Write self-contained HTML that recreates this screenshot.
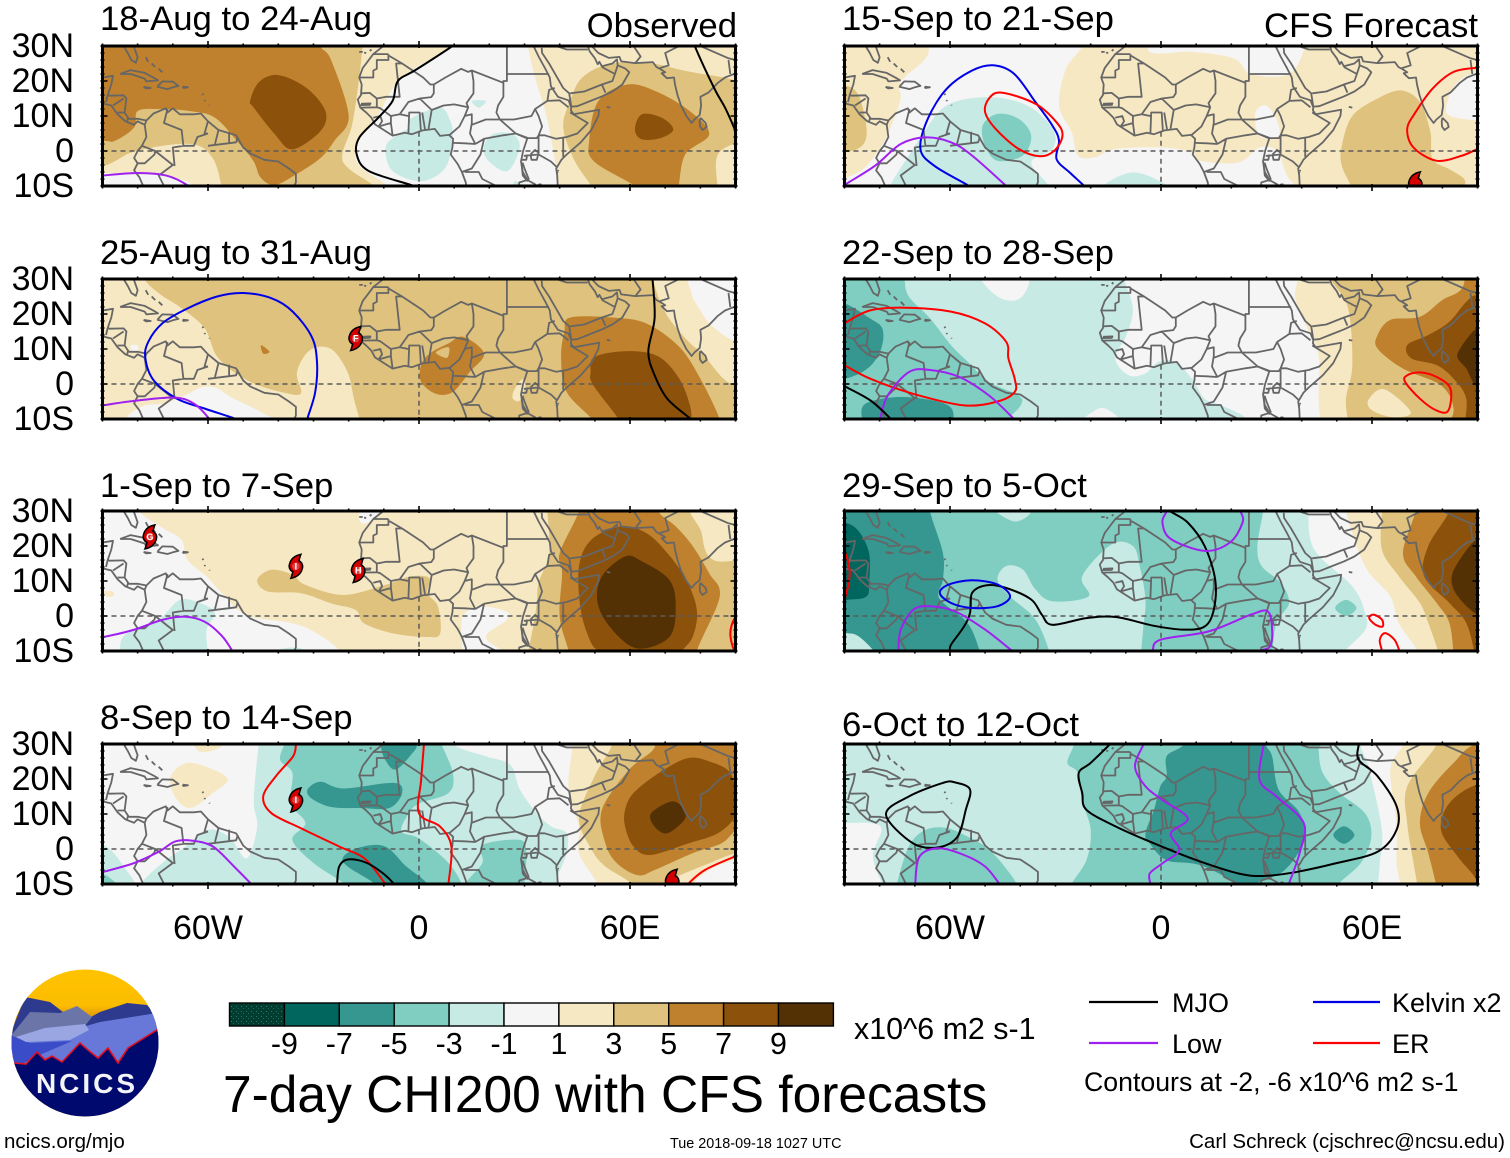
<!DOCTYPE html>
<html lang="en">
<head>
<meta charset="utf-8">
<title>7-day CHI200 with CFS forecasts</title>
<style>
html,body{margin:0;padding:0;background:#fff;}
svg{display:block;}
text{font-family:"Liberation Sans",Arial,sans-serif;fill:#000;}
</style>
</head>
<body>
<svg id="chart" xmlns="http://www.w3.org/2000/svg" width="1510" height="1158" viewBox="0 0 1510 1158">
  <defs>
    <pattern id="stipple" width="5" height="5" patternUnits="userSpaceOnUse">
      <rect width="5" height="5" fill="#003c30"/>
      <rect x="1" y="1" width="1" height="1" fill="#2e7a6c"/>
      <rect x="3" y="3" width="1" height="1" fill="#1f6a5c"/>
    </pattern>
    <clipPath id="logo-clip"><circle cx="85" cy="1043" r="73.5"/></clipPath>
    <linearGradient id="logo-sky" x1="0" y1="0" x2="0" y2="1">
      <stop offset="0" stop-color="#ffc400"/><stop offset="0.25" stop-color="#fcbc00"/><stop offset="0.32" stop-color="#e09a10"/><stop offset="1" stop-color="#dc960f"/>
    </linearGradient>
  </defs>
  <g id="panels"></g>

  <text x="737" y="37" font-size="34.7" text-anchor="end">Observed</text>
  <text x="1478" y="37" font-size="34.7" text-anchor="end">CFS Forecast</text>

  <g id="colorbar"></g>
  <text x="854" y="1039" font-size="30.4">x10^6 m2 s-1</text>
  <text x="223" y="1112" font-size="51.5">7-day CHI200 with CFS forecasts</text>

  <g>
    <line x1="1089" y1="1002" x2="1158" y2="1002" stroke="#000" stroke-width="2.2"/>
    <text x="1172" y="1012" font-size="27">MJO</text>
    <line x1="1313" y1="1002" x2="1380" y2="1002" stroke="#0000e6" stroke-width="2.2"/>
    <text x="1392" y="1012" font-size="27">Kelvin x2</text>
    <line x1="1089" y1="1043" x2="1158" y2="1043" stroke="#a020f0" stroke-width="2.2"/>
    <text x="1172" y="1053" font-size="27">Low</text>
    <line x1="1313" y1="1043" x2="1380" y2="1043" stroke="#ff0000" stroke-width="2.2"/>
    <text x="1392" y="1053" font-size="27">ER</text>
    <text x="1084" y="1091" font-size="26.7">Contours at -2, -6 x10^6 m2 s-1</text>
  </g>

  <text x="4" y="1148" font-size="20.5">ncics.org/mjo</text>
  <text x="670" y="1148" font-size="14.4">Tue 2018-09-18 1027 UTC</text>
  <text x="1505" y="1148" font-size="20.5" text-anchor="end">Carl Schreck (cjschrec@ncsu.edu)</text>

  <g clip-path="url(#logo-clip)">
    <rect x="10" y="968" width="150" height="150" fill="url(#logo-sky)"/>
    <polygon fill="#2d3a8e" points="10,1035 25,997 50,1002 63,1012 82,1022 100,1012 127,1003 147,1005 162,1022 162,1050 10,1050"/>
    <polygon fill="#6b75a8" points="10,1037 30,1012 60,1013 77,1006 92,1017 84,1027 40,1042 10,1042"/>
    <polygon fill="#6878d8" points="10,1042 40,1035 86,1026 100,1022 157,1013 162,1030 162,1068 10,1068"/>
    <polygon fill="#3a4cc8" points="10,1035 30,1043 72,1041 42,1054 22,1064 10,1064"/>
    <polygon fill="#9aa6e2" points="16,1037 45,1028 85,1024 89,1030 70,1040 26,1042"/>
    <polygon fill="#000a6e" points="10,1063 15,1063 26,1064 37,1052 45,1060 52,1056 62,1062 80,1043 88,1050 98,1058 108,1048 118,1063 128,1048 162,1027 162,1120 10,1120"/>
    <polyline fill="none" stroke="#e01020" stroke-width="1.6" points="14,1063 26,1064 37,1052 45,1060 52,1056 62,1062 80,1043 88,1050 98,1058 108,1048 118,1063 128,1048 160,1028"/>
    <text x="87" y="1093" font-size="28" font-weight="bold" text-anchor="middle" letter-spacing="3" style="fill:#f4f4f8">NCICS</text>
  </g>
</svg>

<script>
/* ---- Axis and scale data ---- */
const lonTickLabels = [[-60, '60W'], [0, '0'], [60, '60E']];
const latTickLabels = [[30, '30N'], [20, '20N'], [10, '10N'], [0, '0'], [-10, '10S']];
const cbLevels = [-9, -7, -5, -3, -1, 1, 3, 5, 7, 9];
const cbColors = ['url(#stipple)', '#01665e', '#35978f', '#80cdc1', '#c7eae5', '#f5f5f5', '#f6e8c3', '#dfc27d', '#bf812d', '#8c510a', '#543005'];

/* Shading bands in value space: -10 .. 10 */
const bandColors = {'-10':'#003c30','-8':'#01665e','-6':'#35978f','-4':'#80cdc1','-2':'#c7eae5','0':'#f5f5f5','2':'#f6e8c3','4':'#dfc27d','6':'#bf812d','8':'#8c510a','10':'#543005'};
const lineColors = {mjo:'#000000', low:'#a020f0', kelvin:'#0000e6', er:'#ff0000'};

/* ---- Geography (lon, lat pairs) ---- */
const coastlines = [
 [-9.6,30.4,-13,27.7,-16,23.7,-17,21,-16.3,19,-16.5,16,-17.4,14.7,-16.7,12.4,-15,11,-13.5,9.5,-12.5,7.6,-10,6,-7.5,4.4,-4,5.2,-2,4.8,1,5.9,4.5,6.3,6,4.3,8.5,4.6,9.7,3.5,9.5,1,9,-1,11,-3.7,12.2,-6,13.3,-9,13.5,-11],
 [39.5,-11,39.3,-7,39,-5,40.5,-2.5,42,-1,46,2.5,49,6,51,10,51.2,11.8,48,11.2,44,10.5,43.2,11.6,43.3,12.5,42.5,14.5,39.5,15.5,37.5,18.5,37.2,21,35.7,23.9,34,27,32.6,29.9,32.5,31],
 [34.9,29.5,35,28,37,25,39,21.5,41,18,42.7,16.5,43.3,12.7,45,12.8,48,14,52,15.6,55,17,57.8,19,59.8,22.5,58.6,23.6,56.5,24.5,56.3,26.2,55,25,52,24.2,51.3,25.5,50.8,24.8,50,26.5,48.5,28.5,48,30,48.8,30.3,51,28,54,26.6,57,26.9,57.5,25.6,61.5,25.1,66.5,25.4,67.5,24,68.5,23.5,70,22.5,69,22.2,70.5,20.8,72.5,21,72.8,19,73.5,16,74.5,13,76,10,77.5,8,78.3,9,79.8,10.3,80.2,13,80,15.5,82.3,16.7,85,19.5,87,21,88.5,21.6,91,22.5],
 [80,9.5,81.5,8,81.8,6.9,80.6,6,79.9,7,79.8,8.5,80,9.5],
 [31.7,-1,33,0.3,34,-0.5,33.5,-2.5,32,-2.5,31.7,-1],
 [29.2,-4,29.5,-7,30.8,-8.5,31.2,-8,30,-5,29.5,-3.5,29.2,-4],
 [34.5,-11,34.6,-9.5,34,-9.6,34.2,-11],
 [-91,21,-90,21,-87,21.5,-87.5,19,-88.5,16,-88,15.8,-84,15.9,-83.2,15,-83.7,11,-82.5,9.2,-80,9.2,-77.5,8.7,-75.5,10.7,-72,12.2,-71.5,11,-70,12.2,-68,10.5,-64,10.5,-62,10.7,-60,8.5,-57,6,-52,4.5,-50,1,-48,-0.7,-44,-2.5,-40,-3,-37,-5,-35,-6.5,-35,-9,-36,-11],
 [-91,13.9,-87.5,13,-85.7,10.5,-83.5,8.5,-81,7.5,-80,8.5,-78,7.5,-77.5,4,-78.8,1.5,-80,0,-81,-2,-80,-3.5,-81,-5.5,-79.5,-7.5,-78,-11],
 [-85,22,-82,23.1,-78,22.3,-75,20.7,-74.2,20.2,-77.5,19.9,-78,20.7,-82,22,-85,22],
 [-74.3,18.5,-73,19.9,-70,19.8,-68.4,18.6,-70,18.2,-71.5,17.7,-74.3,18.3,-74.3,18.5],
 [-78.3,18.3,-76.3,18,-77.5,17.9,-78.3,18.3],
 [-67.2,18.4,-65.7,18.2,-67,18,-67.2,18.4],
 [-81.5,31,-80,26.8,-80.5,25.2,-81.8,26,-82.8,28,-84,30,-91,30.3],
 [-77.7,26.8,-77,25.5],[-76,25,-75,24],[-74,23.5,-73,22.5],[-61.6,16.4,-61.3,16],[-60.9,14.6,-60.9,14.2],[-59.6,13.2,-59.5,13],
 [-17,28.3,-16,28.3],[-15.6,28.1,-15,28],[-14,28.6,-13.5,29],
 [53.4,12.6,54.4,12.4],
 [39.4,-5.5,39.7,-5.8],[39.3,-6.2,39.5,-6.4]
];
const borders = [
 [-13,27.7,-8.7,27.7],[-8.7,27.7,-8.7,26,-12,26,-12,23.5,-13,23,-13,21,-17,21],
 [-8.7,27.3,-4.8,25,-6.5,25,-5.5,15.5,-9.3,15.5,-12,15,-14,16.6,-16.3,16.5],
 [-4.8,25,1.2,21,3.2,19,4.2,19,4.2,16.5,3.5,15.4,0.2,15,-3,14,-5.5,10.5,-8,10,-11,12.2,-12,12.5,-16.7,12.4],
 [-12,15,-12,12.5],[-16.5,13.5,-13.8,13.6,-14,13.2,-16.7,13.1],
 [4.2,19,7.5,21,12,23.5,14,22.6,15,23,15.5,20,15.5,16.5,13.5,13.7,14,12.5,13,10,11.5,7,8.7,4.6],
 [0.2,15,3.6,11.7,7,13,10,13.3,14,12.5],[3.6,11.7,2.7,6.3],[1.7,6.2,0.9,11],[-3,5,-2.8,11,0.2,11,0.5,6],
 [-5.5,10.5,-3,10],[-7.5,4.4,-8,8,-8,10],[-13,9.5,-11,10,-10.5,8.5,-11.5,7],[-11.5,7,-8,8],
 [9.8,2.3,13,2.2,16,2],[13,10,15,10.5,15,8,14.5,5,16,2],[15,23,24,19.5],[25,31,25,20,24,20,24,15.5,22.5,13,22,11,23,9],
 [25,22,37,22],[15,10.5,15,7.5,19,9,23,9,27.5,5,24,4.5,18.5,3.5,16,2],
 [18.5,3.5,17.5,-1,15,-5,12.2,-6],[27.5,5,30.8,3.6,29.6,0,29,-3,29.5,-6,30.8,-8.3,28.5,-9,28.5,-11],[13,-6,17,-6,18,-8,22,-10,22,-11],
 [23,9,27,9,32,10,33,12,34,10,35,7,34,4.5,33.5,3.7,31,3.7,27.5,5],[33,12,36.5,14.3,37,17.5,38.6,18],[36.5,14.3,40,14.5,42.5,12.5],
 [43,11,48,8,45,5,42,4,39,3.5,35.7,4.5,34,4.5,34,-1,37.5,-3,39.3,-4.7],[41,4,41,-1.7],[29.8,-1.4,33.9,-1],
 [39.5,-10.5,34.5,-11.5],[30.8,-8.3,33,-9.5,34.5,-11],[29,-2.5,30.5,-2.5,30.8,-1],
 [43,16.5,47,17,52,19,55,20,55.7,22,52,24],[52,19,53,16.7],[36,31,39,30,42,29,48,29],[55.7,22,56.5,24.5],
 [61.5,25.1,63,27,61,30,61,32],[68.5,23.7,71,24.5,70,28,74,30,75,32],[80,30,88,26.5,90,26],[88,26,88.5,22],
 [-88.5,16,-89,14],[-87,13,-84,15],[-85.7,11,-83.7,11],[-83,8.5,-82.7,9.5],[-77.5,8.7,-78,7.5],
 [-71.5,12,-72.5,8,-67.5,6,-67,1.5,-70,1,-69.5,-4.3],[-78.8,1.5,-75,0,-75.2,-1,-78,-3.5,-80,-3.5],[-75,0,-70,-4,-74,-7,-72,-11],
 [-60,8.5,-61,5,-60,5],[-67,1.5,-64,1.5,-63,4,-60,5],[-57,6,-58,2],[-54,5.5,-54,2.2],[-60,1.5,-52,2.5,-51.5,4]
];

/* ---- Shaded field per panel: [band value, closed contour lon/lat] ---- */
const field18Aug = [
 [0,[-100,35,100,35,100,-15,-100,-15]],
 [2,[9.5,36,9.5,30,0.7,24.8,-6,20,-11.6,10.5,-17,3,-17.3,-3.8,-7.5,-11,-7,-16,-105,-16,-105,36]],
 [0,[-95,-7,-80,-6.7,-71.6,-7,-65,-11,-95,-15]],
 [4,[-105,36,-15,36,-16,30,-17,21,-19,7.6,-21.8,-1,-20,-5,-11.6,-11,-11.6,-16,-56,-16,-56,-11,-58.7,-2,-65,2,-80.5,0,-90,-4.3,-105,-5]],
 [6,[-105,36,-28,36,-28,30,-25,26,-20,10,-24,3,-28,-2,-35,-6.7,-41,-9.7,-45,-7.6,-47,-3,-51,2,-58,9.5,-65,11.4,-74,12,-80,11.4,-81,6.7,-86.5,2.9,-90,2.9,-105,3]],
 [8,[-40,21.7,-32,18,-26.6,11.4,-28,5.7,-36,0.5,-41,4.8,-47,12.4,-48,14.3,-45.5,19.7]],
 [2,[31,36,31,30,33,21,36,11,38,1,40,-11,40,-16,105,-16,105,36]],
 [4,[43,14.3,46.4,21,54,24.8,64.8,25.2,75.7,22.9,93,19,100,10,93,3.8,85,-1,85,-11.4,85,-16,49.8,-16,49.8,-11.4,44.3,-2.9,41,6.7]],
 [6,[51,14.3,59.3,19,67.5,17,77,11.4,82.5,4.8,75.7,-1,73.7,-10.5,72,-15,63,-15,62,-10.5,49.8,-3,48.4,3]],
 [8,[63.4,10.5,69,9.5,72.3,6.2,69,3.8,63.4,3.3,61.4,6.2]],
 [-2,[-2,9.5,6,12.4,8.9,8.6,9.5,3.8,7.5,-4.8,0.7,-8.6,-7.5,-5.7,-9.5,1,-6,4.8,-2.7,6.7]],
 [-2,[21,4.8,26.6,4.8,28.6,1,25.2,-5.7,19.8,-2.9,18.4,1]],
 [-2,[15,14.3,19,14.3,17,12.4]],
 [-2,[27.3,-8.6,30,-10.5,27,-11]]
];
const field25Aug = [
 [4,[-100,35,100,35,100,-15,-100,-15]],
 [2,[-105,36,-78,36,-78,30,-73.4,25.5,-68,22,-61,16,-57,7.3,-48,0.6,-37,-2.8,-33.5,-2.4,-34.7,3.4,-31,9.7,-25,10,-20.3,3.4,-18.5,-4.2,-16.7,-11,-16,-16,-105,-16]],
 [0,[-82,-11,-79,-6.5,-72,-5.5,-66,-3,-62,-1,-58,-1,-53,-4,-45,-8,-42,-11,-60,-14]],
 [0,[-82,11,-80,11,-80,9.5,-81.5,9.5]],
 [2,[66,36,66.5,30,69.4,21.6,74,15,80,9.2,92,1,105,36]],
 [0,[78,31,77.5,26,79,22.6,84,16,92,13.5,95,35]],
 [2,[29.3,1.3,30.3,-0.4,28.7,-4.7,26.7,-4.2,27,-1.8]],
 [6,[3,8.7,8.4,11.6,12.6,13.5,18.5,8.7,14.4,3.4,9.6,-2.3,4.8,-2.8,0.6,0.6,0.6,5.4]],
 [4,[4.8,9,8.4,10.5,8,7.5]],
 [6,[-44.9,11.1,-42.5,9.2,-44.3,8.7]],
 [6,[43,19,55,19,64.6,17.3,74,10.6,80,1.5,85.5,-10,86,-15,50,-15,50,-11,42,-2.3,40.4,7.3,41.3,15]],
 [8,[50,7.8,59.8,9.4,68.2,7.8,74,1.5,77,-6,77.5,-11,77,-15,58,-15,57.4,-11,49.6,-0.4,48.8,3.4]]
];
const field1Sep = [
 [2,[-100,35,100,35,100,-15,-100,-15]],
 [0,[-105,36,-79.5,36,-79.5,30,-73.6,25.6,-67.6,21.8,-65.8,16,-60.4,11.3,-56,6.5,-49,0.3,-36,-2.1,-29,-5,-22.7,-10,-22,-16,-105,-16]],
 [2,[-89.7,7,-87.3,7,-86.7,6,-88.5,5.4]],
 [-2,[-85,-11,-83.7,-5.5,-74,-1,-68,4.6,-62,3.6,-58,0.8,-60.4,-4,-60,-11,-60,-15,-85,-15]],
 [-2,[-42,-10.5,-36,-9,-31,-10.5,-36,-13]],
 [0,[-16.5,30.5,-17,27.5,-15,26.5,-10,30.5,-13,34]],
 [0,[12,-4,13,0.8,18,2.7,25,1.2,25,-1.1,19,-6,25,-11,25,-15,12.5,-15,12.5,-11]],
 [4,[-46,10.3,-42,13.2,-36,11.8,-32.3,8.9,-21.5,6,-9.6,8.9,-2.4,11.3,3,10.8,2.4,6.5,5.4,2.7,6,-5,2.4,-6,-7.2,-5,-15.6,-2.1,-18,1.7,-25,3.6,-33.5,6.5,-43,7]],
 [4,[36.5,36,36.5,30,37,18,34,9.4,33.5,3.6,32.3,-4,31,-11,31,-16,100,-16,100,13.5,83.7,16,80,24.7,77,30,77,36]],
 [6,[45.5,36,45.5,30,40,18,40.7,12.3,40,-0.2,42.5,-10,43,-16,79,-16,79,-10,85.5,5.5,82.5,12.2,77.8,20,73,25.6,68,30,68,36]],
 [8,[57.4,25.6,49,21.8,45.5,14.2,46,1.7,49,-7.8,52,-11,53,-16,73,-16,74,-11,77.8,-6,79,1.7,76,10.3,70.6,18,64.6,23.7]],
 [10,[58.6,17,63.4,15.6,71.2,10.3,73,2.7,71.2,-6,62.2,-9.3,55,-4,50.8,3.6,52,11.3]]
];
const field8Sep = [
 [0,[-100,35,100,35,100,-15,-100,-15]],
 [-2,[-80,-11,-73,-4,-66,1,-60,5.5,-54,3.5,-49,-2.7,-46,6.4,-47,14,-45.5,31,-45,36,9.6,36,9.6,30,19,26.5,26,24,28.7,17,33.5,10.2,37.7,6.4,42,4.5,42,-1.2,39.5,-8,40.7,-11,40.7,-16,-80,-16]],
 [-2,[-92,1,-88,0,-84,-5,-81,-11,-92,-11]],
 [-4,[-92,-7,-89,-7.5,-85.5,-11,-92,-11]],
 [-4,[-38,31,-39.5,25.5,-36,21.7,-36.5,13,-32.3,7.4,-36,2.6,-30,-4,-20,-11,-20,-15,12.6,-15,12.6,-11,8.4,-4,0,3,-5,5,-3,10,0,13,8.4,16,9.6,21.7,6,31,5,36,-38,36]],
 [-4,[18,1.1,28.7,2.6,30.5,-1.2,30,-10,30,-15,13.2,-15,13.2,-10,18,-4]],
 [-6,[-10.8,29.4,-9.6,25.5,-6.6,22.7,-1.8,27.5,-0.6,30,-2,34,-10,34]],
 [-6,[-31.7,17,-28,19.2,-21.5,17.3,-7.2,18.9,-4.8,16,-8.4,11.7,-16.7,11.7,-25,12,-30.5,14.4]],
 [-6,[-21.5,-2.2,-16.7,0.5,-9.6,0.7,-3.6,-5,2.4,-10,3,-15,-12,-15,-12,-10.5,-20.3,-5]],
 [2,[-64.6,31,-62,27.7,-56,29.4,-56,33,-64,33]],
 [2,[-70.6,20.8,-65.8,24.6,-58.6,22.7,-54.4,19.8,-58.6,16,-65,11.7,-69.4,15]],
 [2,[43.7,36,43.7,30,42.5,17,45.5,6.4,45.5,-1.2,51.4,-11,52,-16,105,-16,105,36]],
 [0,[78,-10,82.5,-6,90,-3,96,-3,96,-15,78,-15]],
 [4,[55,36,55,30,50,21,45.5,9,49,0,53,-5,60.4,-10,61,-15,69,-15,69.4,-10,83.7,-3.6,90.3,-1.2,96,-1,96,36]],
 [6,[67,36,67,29,59.8,22.7,52,11.2,53,1.6,56.2,-4,62.2,-7.5,67,-6,77.8,-1.2,86,1.6,90.3,5.5,96,8,96,36]],
 [8,[58.6,11.2,61,16,68.2,21.7,76.6,26,83.7,24.6,88.5,21.7,90.3,15,90.3,9.8,85,4.5,76.6,1.6,65.8,-1.7,61,0.7,58.6,6.4]],
 [10,[66,10.2,72,13.6,75.4,11.2,75.4,8.3,70.6,4.5,67,6.4]]
];
const field15Sep = [
 [0,[-100,35,100,35,100,-15,-100,-15]],
 [2,[-105,36,-65.7,36,-66,30,-67,26.4,-74,19.7,-74,15,-76,9,-80,0.6,-88,-7,-105,-8]],
 [4,[-96,19,-90,18.8,-86,16,-83.7,6.3,-85,1.5,-90,-0.4,-96,0]],
 [2,[-22.4,36,-22.4,30,-27,23.5,-29,13,-25.4,5.4,-23.6,-1.3,-18.8,-1.8,-12.8,0.6,0.4,1,8.8,-0.4,11,-2.8,22,-3.3,28,1,33,0,35.8,-7,38.8,-11,39,-16,105,-16,105,36,41,36,41,30,36.4,22,25.6,22,20.8,26.4,8.8,28.3,-3.2,28.3,-3.5,36]],
 [0,[29.8,13,32.8,9.2,33.4,4.4,28,4.4,26.8,11]],
 [0,[84.4,19.7,81.4,14,82,10.1,89.8,8.7,97,8,97,22,90,22.5]],
 [4,[51.4,1.5,54.4,10,61.6,15,68.2,17.3,73.6,14,76.6,5.4,77.2,-2.3,82,-5.2,86.2,-8,86.2,-11,86,-15,54,-15,54.4,-11,51.4,-4.2]],
 [-2,[-77,-10,-71.7,-1.3,-68,4.4,-61,13,-49,15.4,-38,13,-30.8,6.3,-30.8,0.6,-36.9,-3.3,-32,-10,-32,-15,-77,-15]],
 [-2,[-16.4,-10,-8,-6.1,0.4,-9,1.6,-11,1,-15,-17,-15]],
 [-4,[-50.7,7.3,-46.5,10.6,-40.5,9.2,-36.9,4.4,-39.3,-1.3,-46.5,-2.8,-50,1.5]]
];
const field22Sep = [
 [0,[-100,35,100,35,100,-15,-100,-15]],
 [-2,[-105,36,-10.4,36,-10.4,30,-8,21.6,-9.8,14,-13,7.3,-9.2,2.5,-4.4,3,-0.8,6.3,4,6.3,8.8,1.5,12.4,-4.2,17.2,-6.1,24.4,-10,26,-16,-105,-16]],
 [0,[-51.3,31,-46.5,25,-41,24,-38,27.4,-38,31,-44,34]],
 [0,[-22.4,-11,-17.6,-7,-14,-8,-11.6,-11,-16,-14]],
 [-4,[-105,36,-72.9,36,-72.9,30,-71.7,25,-65.7,18.8,-59.7,11.1,-54.9,6.3,-48.9,0.6,-40.5,-3.3,-39.9,-6.1,-44,-11,-44,-16,-105,-16]],
 [-6,[-96,23,-90,23,-82.8,18.8,-79.3,16,-79.3,11,-81.6,6.3,-85,3.4,-90,1.5,-96,1]],
 [-6,[-85,-11,-84,-5.6,-73,-3.7,-60.7,-6,-59,-11,-60,-15,-85,-15]],
 [2,[38.8,36,38.8,30,38.2,24.5,41.2,16.8,44.8,8.2,44.8,-4.2,45.4,-11,46,-16,105,-16,105,36]],
 [4,[48.4,36,48.4,30,53.2,21.6,54.4,5.4,52.6,-4.2,53.2,-11,53.5,-16,105,-16,105,36]],
 [2,[59,-4.5,63.5,-1.5,71,-8,66,-9.5,60,-7.5]],
 [6,[61.6,14,65.2,18.3,73.6,19.2,80,24,85.6,27.4,88,36,96,36,96,-15,82,-15,83.2,-7,79.6,-0.4,68.8,4.4,61.6,10.1]],
 [8,[70,11.1,76,14,82,17.8,86.8,23.5,90,25.5,96,25,96,-15,87,-15,86.8,-4.2,83.2,1.5,78.4,5.4,71.2,7.3]],
 [10,[85,10,90,16,96,16,96,-2,90,-1,86.8,4.4,84.4,7.3]]
];
const field29Sep = [
 [0,[-100,35,100,35,100,-15,-100,-15]],
 [-2,[-105,36,41.8,36,41.8,30,43.6,19,54.4,8.5,58,1,58,-4,51.4,-11,50,-16,-105,-16]],
 [-4,[-105,36,29,36,29,30,27.4,20,28.6,14.3,34,9.5,36.4,3.7,32.8,-2,31.6,-11,31,-16,-5.6,-16,-5.6,-10,-5,-3,-4.4,4.7,-6,14,-8,20,-14,20.5,-22.4,11.4,-20.6,5.6,-30.9,4.2,-35.7,7.6,-39.3,13.3,-44,14.3,-46.5,10.4,-43,5.6,-35.7,-1,-31.5,-11,-31,-16,-105,-16]],
 [-2,[-47.7,31,-41.6,27,-37,30,-42,34]],
 [-4,[49.5,2.3,52.6,4.6,55.6,2.3,52.6,0]],
 [-6,[-105,36,-65.7,36,-65.7,30,-62,18,-62,10.4,-63,5,-55,-2,-51.3,-11,-51,-16,-105,-16]],
 [-2,[-95,-4.9,-89.7,-4.9,-86,-5.8,-81,-11,-81,-15,-95,-15]],
 [-8,[-96,27,-90,26.7,-86,24.3,-83,18,-83,9.5,-83.7,5.6,-88.5,4.7,-96,5]],
 [2,[52.6,36,52.6,30,58,14.3,65.2,5.6,67.6,-2,73.6,-11,74,-16,105,-16,105,36]],
 [4,[62.8,36,62.8,30,62.8,19,67.6,11.4,73.6,3.7,76,-2,79,-11,79.5,-16,105,-16,105,36]],
 [6,[72.4,36,72.4,30,68.8,18,72.4,11.4,78.4,3.7,82,-2,83.2,-11,83.5,-16,105,-16,105,36]],
 [8,[82,36,82,30,76,20,74.8,11.4,82,3.7,86.8,-2,89.2,-11,89.5,-16,105,-16,105,36]],
 [10,[90,22,84.4,15.2,82.6,10.4,84.4,5.6,90,0.4,97,-1,97,23]]
];
const field6Oct = [
 [-2,[-100,35,100,35,100,-15,-100,-15]],
 [0,[-96,7.4,-90,7.4,-82.5,7.4,-79.5,5.5,-81.9,-2.2,-78.9,-11,-78.5,-16,-96,-16]],
 [0,[56.8,36,56.8,29.4,59.2,22.7,62.8,5.5,62.2,-4,61.6,-11,61,-16,105,-16,105,36]],
 [2,[68.8,36,68.8,29.9,65.2,22.7,67,7.4,67,-4,68.2,-11,68.5,-16,105,-16,105,36]],
 [4,[78.4,36,78.4,29.9,70,17.9,70,7.4,71.8,-4,73,-11,73.5,-16,105,-16,105,36]],
 [6,[90,30,83.2,24.6,76,16,73.6,7.4,76,-1.2,78.4,-11,79,-16,105,-16,105,30]],
 [8,[90,18.4,82,13.1,79.6,5.5,84.4,-2.2,89.2,-8,92,-14,100,-14,100,18]],
 [-4,[-24.8,36,-24.8,29.9,-26.6,24.6,-23.6,21.7,-22.5,14,-20,5.5,-21.2,-3.2,-26,-11,-26,-16,49.6,-16,49.6,-11,56.8,-4,59.8,3.5,58,10.2,50.8,16,46,21.7,44.8,28.4,44.8,36]],
 [-4,[-75.3,-11,-71.7,0.7,-66.9,5.5,-60.9,6,-54.9,3.5,-50,0.7,-45.3,-4,-40.5,-11,-40.5,-16,-75.3,-16]],
 [-6,[1.6,20.8,1.6,26.5,6.4,29.9,6,36,29.8,36,29.8,29.9,31.6,26.5,33.4,17,38.8,11.2,40.6,6.4,40,0.7,35.2,-6,29.2,-8.9,23.2,-10,11.2,-4.6,1.6,-3.2,-3.2,1.6,-4.4,4.5,-2,11.2,-0.2,17.9]],
 [-6,[49,4,52,6.5,55,4,52,1.5]]
];

/* ---- Contours per panel: [wave type, lon/lat points, closed?] ---- */
const lines18Aug = [
 ['mjo',[10,31,9.5,30,-0.7,23.3,-6,20,-7.5,14.3,-11.6,9.5,-17,3.8,-17.7,-1,-14.3,-5.7,-2,-9.8,1,-11]],
 ['mjo',[78,32,78.4,30,83.9,18,87,12.4,90,5.7,91,3]],
 ['low',[-92,-7.2,-90,-7,-79.8,-6.3,-71.6,-7.1,-65.5,-10,-64,-12]]
];
const lines25Aug = [
 ['kelvin',[-50,-11,-52.6,-9.8,-61,-7,-68.8,-4.2,-75.4,1,-77.8,7.3,-77,12,-73,17.3,-65.8,21.6,-57.4,25,-50,26,-41.9,24.5,-35.9,20.7,-30.5,13.5,-29,6.3,-29.5,-2.3,-31.7,-9.8,-32,-12]],
 ['mjo',[66,32,66.4,30,67,18.8,65.2,9.2,67,2.5,70.6,-4.2,77,-9.8,78,-11]],
 ['low',[-92,-6.3,-90,-6.1,-80,-4.7,-69.4,-3.9,-64,-5.6,-59.8,-9.8,-59,-12]]
];
const lines1Sep = [
 ['low',[-92,-6.3,-89.7,-6,-81.3,-4,-73,-1.1,-66.4,-0.2,-61,-1.6,-56.2,-5.5,-53.2,-9.8,-52.5,-12]],
 ['er',[92,1,89.7,-0.7,88.5,-5,89.7,-10,92,-12]]
];
const lines8Sep = [
 ['low',[-92,-7,-89.7,-6.5,-81.3,-4.1,-74,-0.8,-69.4,2.1,-64.6,2.4,-58.6,0.7,-52.6,-5,-47.8,-9.9,-46,-12]],
 ['er',[-35,32,-35,30,-35.8,26.5,-40.7,20.8,-44.3,15,-41.9,10.2,-33.5,5.9,-22.7,0.7,-15.5,-2.7,-9.6,-9.9,-8,-12]],
 ['er',[1.4,32,1.4,30,0.6,19.7,0,10.2,6,6.4,9.2,0.7,8.4,-9.9,8.2,-12]],
 ['er',[75,-12,76.6,-9.9,81.3,-6,89.7,-2.2,92,-1.5]],
 ['mjo',[-23.4,-12,-23.3,-9.9,-22.7,-5,-20.3,-3,-15.5,-3.7,-10.8,-6.5,-7.2,-9.9,-6,-12]]
];
const lines15Sep = [
 ['kelvin',[-52,-12,-54.9,-9.8,-64.5,-4.2,-68.4,0.6,-66.3,9.2,-60.9,17.8,-53.7,23,-47.7,24.5,-41.7,22,-35.7,14,-30.9,7.3,-29,3,-29.7,-2.3,-26,-6.1,-21.8,-10,-20,-12]],
 ['er',[-45.3,16.7,-35.7,13.5,-29.7,8.2,-28,4.4,-30.3,0.1,-34.5,-1.5,-40.5,0.6,-47,6.3,-50,11.1,-48.9,15],true],
 ['er',[92,24,90,23.8,83.2,22.6,77.2,17.8,72.4,11.1,70,6.3,71.8,1,78.4,-2.8,85.6,-1.3,90,0.6,92,1.5]],
 ['low',[-92,-11,-89.7,-9.5,-81.3,-4.2,-74,2,-66.9,3.9,-59.7,2.5,-53.7,-1.3,-44,-10,-42,-12]]
];
const lines22Sep = [
 ['er',[-92,15.5,-90,17.3,-82.8,21,-73,21.8,-59.7,20.7,-50,17.3,-44,12,-43.4,7.3,-41.6,1.5,-41.6,-2.3,-46.5,-5,-56,-6.1,-70.5,-2.8,-82.6,1.5,-90,5.4,-92,7]],
 ['er',[73.6,3.3,78.4,2,82.3,-1.3,81.7,-7.6,78.4,-7.6,73.6,-4.2,69.4,0.6,70,2.5],true],
 ['low',[-80,-12,-79.8,-9.8,-77.7,-3.3,-71.7,3.4,-65.7,4,-57.3,2,-48.9,-3.3,-42,-9.8,-40,-12]],
 ['mjo',[-92,0.8,-90,-0.6,-82.6,-4.7,-77,-9.8,-75,-12]]
];
const lines29Sep = [
 ['mjo',[1,32,2.5,30,7.6,26.7,12.4,20,15.4,10.4,15,1.8,12.4,-3,6.4,-3.9,-2,-2.8,-12.8,-0.3,-21.2,-0.6,-30.9,-2.5,-33.9,0.4,-36.9,4.7,-44,8,-49.5,8.8,-53.7,6.6,-54.3,0.9,-56,-3,-59.7,-8.2,-60,-10,-60.2,-12]],
 ['kelvin',[-53.7,10.2,-46.5,9,-42.9,5.6,-46.5,2.8,-53.7,2.3,-59.7,3.7,-62.9,6.6,-60.3,9],true],
 ['low',[1.6,32,1.6,30,0.4,26.7,2.8,22,12.4,18.6,19.6,21,23.2,26.7,22.6,30,22,32]],
 ['low',[-75,-12,-74.7,-10,-74,-3.9,-70.4,1.8,-65.7,2.8,-58.5,1.3,-50,-3.9,-42.3,-10,-40,-12]],
 ['low',[-3,-12,-2.4,-10,-0.2,-6.8,13.6,-4.4,25.6,0.4,30.4,1.3,31.6,-3.9,31,-8.7,28,-10,26,-12]],
 ['er',[-92,20,-90,18.6,-88.5,12.3,-90,4.7,-92,3]],
 ['er',[60.4,0.4,62.8,-1,63,-3,61,-2.5,59.2,-0.6],true],
 ['er',[62.6,-12,62.8,-10,62.2,-6.8,63.7,-4.9,66.4,-6.8,67.8,-10,68.3,-12]]
];
const lines6Oct = [
 ['mjo',[-13,32,-14.6,29.9,-20,24.6,-23.4,21.7,-22.4,16,-21.2,11.2,-12.8,6.4,-0.8,1.1,11.2,-3.6,22,-7,29.2,-7.7,38.8,-6.5,49.6,-4.1,61.6,-0.8,67,5.5,67,12.2,61.6,20.8,56.2,25.5,56.2,29.9,56.2,32]],
 ['mjo',[-58.5,19,-54.3,17,-55.5,11.2,-57.9,3.5,-63.3,0.5,-70.5,1.6,-78.2,9.8,-71.7,15,-62,18.9],true],
 ['low',[-4.5,32,-5,29.9,-7.4,23.6,-4.4,17.9,0.4,14,7.6,8.8,2.8,4.5,5.2,-0.3,0.4,-4.1,-3.2,-7,-3,-10,-2.8,-12]],
 ['low',[29.5,32,29.2,29.9,28,19.8,32.8,15,40.6,7.4,39.4,-1.2,36.4,-9.9,36,-12]],
 ['low',[-70,-12,-69.9,-10,-68.7,-2.2,-63.3,0.2,-56,-1.7,-50,-5,-45.9,-10,-44,-12]]
];

/* ---- Tropical cyclone positions ---- */
const storms25Aug = [['F',-18,13]];
const storms1Sep = [['G',-76.5,22.6],['I',-35,14.2],['H',-17.3,13]];
const storms8Sep = [['I',-35,14],['',72,-9.2]];
const storms15Sep = [['',72.3,-9.4]];

/* ---- Panel layout ---- */
const panelTitles = ['18-Aug to 24-Aug','25-Aug to 31-Aug','1-Sep to 7-Sep','8-Sep to 14-Sep','15-Sep to 21-Sep','22-Sep to 28-Sep','29-Sep to 5-Oct','6-Oct to 12-Oct'];
const panelFields = [field18Aug,field25Aug,field1Sep,field8Sep,field15Sep,field22Sep,field29Sep,field6Oct];
const panelLines = [lines18Aug,lines25Aug,lines1Sep,lines8Sep,lines15Sep,lines22Sep,lines29Sep,lines6Oct];
const panelStorms = [[],storms25Aug,storms1Sep,storms8Sep,storms15Sep,[],[],[]];

/* ---- Axis functions ---- */
const colZeroX = [419, 1161];
const rowTopY = [46, 279, 511, 744];
const pxPerLon = 3.517, pxPerLat = 3.5;
const titleBaselines = [30, 264, 497, 729];
function lonToX(lon, col){ return colZeroX[col] + lon * pxPerLon; }
function latToY(lat, row){ return rowTopY[row] + (30 - lat) * pxPerLat; }

const NS = 'http://www.w3.org/2000/svg';
function make(tag, attrs, parent){
  const n = document.createElementNS(NS, tag);
  for (const k in attrs) n.setAttribute(k, attrs[k]);
  if (parent) parent.appendChild(n);
  return n;
}
function project(flat, col, row){
  const out = [];
  for (let i = 0; i < flat.length; i += 2) out.push([lonToX(flat[i], col), latToY(flat[i+1], row)]);
  return out;
}
function straightPath(pts){
  return 'M' + pts.map(p => p[0].toFixed(1) + ',' + p[1].toFixed(1)).join('L');
}
function smoothPath(pts, closed){
  const n = pts.length;
  const at = i => closed ? pts[(i + n) % n] : pts[Math.max(0, Math.min(n - 1, i))];
  let d = 'M' + pts[0][0].toFixed(1) + ',' + pts[0][1].toFixed(1);
  const segs = closed ? n : n - 1;
  for (let i = 0; i < segs; i++){
    const p0 = at(i-1), p1 = at(i), p2 = at(i+1), p3 = at(i+2);
    const c1x = p1[0] + (p2[0]-p0[0])/6, c1y = p1[1] + (p2[1]-p0[1])/6;
    const c2x = p2[0] - (p3[0]-p1[0])/6, c2y = p2[1] - (p3[1]-p1[1])/6;
    d += 'C' + c1x.toFixed(1) + ',' + c1y.toFixed(1) + ' ' + c2x.toFixed(1) + ',' + c2y.toFixed(1) + ' ' + p2[0].toFixed(1) + ',' + p2[1].toFixed(1);
  }
  return d + (closed ? 'Z' : '');
}

const root = document.getElementById('panels');
const defs = document.querySelector('#chart defs');

panelTitles.forEach((title, idx) => {
  const col = idx < 4 ? 0 : 1;
  const row = idx % 4;
  const left = lonToX(-90, col), right = lonToX(90, col);
  const top = latToY(30, row), bottom = latToY(-10, row);

  const g = make('g', {}, root);
  
  

  const cp = make('clipPath', {id: 'clip' + idx}, defs);
  make('rect', {x: left, y: top, width: right - left, height: bottom - top}, cp);
  const clipped = make('g', {'clip-path': 'url(#clip' + idx + ')'}, g);

  panelFields[idx].forEach(layer => {
    const poly = make('path', {d: smoothPath(project(layer[1], col, row), true), fill: bandColors[layer[0]]}, clipped);
    
    
  });

  let coastD = '';
  coastlines.forEach(c => { coastD += straightPath(project(c, col, row)); });
  const coast = make('path', {d: coastD, fill: 'none', stroke: '#666', 'stroke-width': 1.8, 'stroke-linejoin': 'round'}, clipped);
  
  

  let borderD = '';
  borders.forEach(c => { borderD += straightPath(project(c, col, row)); });
  const bord = make('path', {d: borderD, fill: 'none', stroke: '#666', 'stroke-width': 1.8, 'stroke-linejoin': 'round'}, clipped);
  
  

  const eq = make('line', {x1: left, x2: right, y1: latToY(0,row), y2: latToY(0,row), stroke: '#5a5a5a', 'stroke-width': 1.5, 'stroke-dasharray': '5 4'}, clipped);
  
  
  const pm = make('line', {x1: lonToX(0,col), x2: lonToX(0,col), y1: latToY(5.5,row), y2: bottom, stroke: '#5a5a5a', 'stroke-width': 1.5, 'stroke-dasharray': '5 4'}, clipped);
  
  

  panelLines[idx].forEach(item => {
    const pts = project(item[1], col, row);
    const path = make('path', {d: smoothPath(pts, !!item[2]), fill: 'none', stroke: lineColors[item[0]], 'stroke-width': 2}, clipped);
    
    
  });

  panelStorms[idx].forEach(s => {
    const sg = make('g', {transform: 'translate(' + lonToX(s[1],col).toFixed(1) + ',' + latToY(s[2],row).toFixed(1) + ')'}, clipped);
    
    
    make('path', {d: 'M5,-12 C0,-11 -5,-8 -6.5,-2 A6.5,6.5 0 0 0 -3,5.6 C-4,8 -4,10 -5,12 C0,11 5,8 6.5,2 A6.5,6.5 0 0 0 3,-5.6 C4,-8 4,-10 5,-12Z', fill: '#d40000', stroke: '#000', 'stroke-width': 1.5}, sg);
    if (s[0]){
      make('circle', {cx: 0, cy: 0, r: 3.8, fill: '#ffffff', opacity: 0.25}, sg);
      const t = make('text', {x: 0, y: 3.2, 'font-size': 9, 'font-weight': 'bold', 'text-anchor': 'middle', style: 'fill:#fff'}, sg);
      t.textContent = s[0];
      
      
    }
  });

  const frame = make('rect', {x: left, y: top, width: right - left, height: bottom - top, fill: 'none', stroke: '#000', 'stroke-width': 3}, g);
  
  

  let tickD = '';
  for (let lon = -90; lon <= 90; lon += 10){
    const major = lon % 60 === 0;
    const len = major ? 5 : 2.5;
    tickD += 'M' + lonToX(lon,col).toFixed(1) + ',' + (top - len) + 'V' + (top + (major ? 2 : 0));
    tickD += 'M' + lonToX(lon,col).toFixed(1) + ',' + (bottom + len) + 'V' + (bottom - (major ? 2 : 0));
  }
  for (let lat = -10; lat <= 30; lat += 2){
    const major = lat % 10 === 0;
    const len = major ? 5 : 2;
    tickD += 'M' + (left - 2) + ',' + latToY(lat,row).toFixed(1) + 'H' + (left + len);
    tickD += 'M' + (right + 2) + ',' + latToY(lat,row).toFixed(1) + 'H' + (right - len);
  }
  const ticks = make('path', {d: tickD, fill: 'none', stroke: '#000', 'stroke-width': 1.6}, g);
  
  

  const baseline = idx === 7 ? 736 : titleBaselines[row];
  const ttl = make('text', {x: left - 2.5, y: baseline, 'font-size': 34.7}, g);
  ttl.textContent = title;
  
  

  if (col === 0){
    latTickLabels.forEach(lt => {
      const t = make('text', {x: 74, y: latToY(lt[0], row) + 11, 'font-size': 34, 'text-anchor': 'end'}, g);
      t.textContent = lt[1];
      
      
    });
  }
  if (row === 3){
    lonTickLabels.forEach(lt => {
      const t = make('text', {x: lonToX(lt[0], col), y: 939, 'font-size': 34, 'text-anchor': 'middle'}, g);
      t.textContent = lt[1];
      
      
    });
  }
});

/* ---- Colour bar ---- */
const cb = document.getElementById('colorbar');
const cbLeft = 229.5, cbBox = 54.9, cbTop = 1003, cbHeight = 23;
cbColors.forEach((c, i) => {
  const r = make('rect', {x: cbLeft + i * cbBox, y: cbTop, width: cbBox, height: cbHeight, fill: c, stroke: '#000', 'stroke-width': 1.4}, cb);
  
  
});
cbLevels.forEach((v, i) => {
  const t = make('text', {x: cbLeft + (i + 1) * cbBox, y: 1054, 'font-size': 30.4, 'text-anchor': 'middle'}, cb);
  t.textContent = String(v);
  
  
});
</script>
</body>
</html>
